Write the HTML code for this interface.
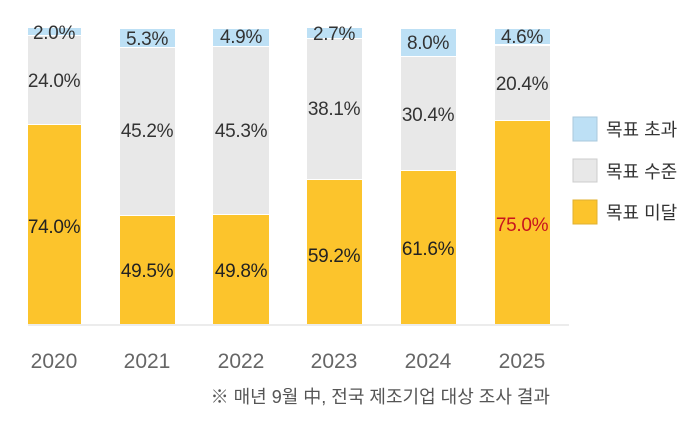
<!DOCTYPE html>
<html><head><meta charset="utf-8"><style>
body{margin:0;background:#fff;}
svg text{font-family:"Liberation Sans","Noto Sans CJK KR",sans-serif;}
</style></head><body>
<svg width="700" height="426" viewBox="0 0 700 426" xmlns="http://www.w3.org/2000/svg">
<line x1="28" y1="325" x2="569" y2="325" stroke="#d8d8d8" stroke-width="1"/>
<g>
<rect x="28" y="28" width="53" height="7" fill="#bde0f5"/>
<rect x="28" y="36" width="53" height="88" fill="#e8e8e8"/>
<rect x="28" y="125" width="53" height="199" fill="#fcc42c"/>
<rect x="120" y="29" width="55" height="18" fill="#bde0f5"/>
<rect x="120" y="48" width="55" height="167" fill="#e8e8e8"/>
<rect x="120" y="216" width="55" height="108" fill="#fcc42c"/>
<rect x="213" y="29" width="56" height="17" fill="#bde0f5"/>
<rect x="213" y="47" width="56" height="167" fill="#e8e8e8"/>
<rect x="213" y="215" width="56" height="109" fill="#fcc42c"/>
<rect x="307" y="28" width="55" height="10" fill="#bde0f5"/>
<rect x="307" y="39" width="55" height="140" fill="#e8e8e8"/>
<rect x="307" y="180" width="55" height="144" fill="#fcc42c"/>
<rect x="401" y="29" width="55" height="27" fill="#bde0f5"/>
<rect x="401" y="57" width="55" height="113" fill="#e8e8e8"/>
<rect x="401" y="171" width="55" height="153" fill="#fcc42c"/>
<rect x="495" y="29" width="55" height="15" fill="#bde0f5"/>
<rect x="495" y="46" width="55" height="74" fill="#e8e8e8"/>
<rect x="495" y="121" width="55" height="203" fill="#fcc42c"/>
</g>
<g font-size="19" fill="#333" text-anchor="middle" letter-spacing="-0.3">
<text x="54" y="39">2.0%</text><text x="54" y="87">24.0%</text><text x="54" y="233" fill="#222">74.0%</text>
<text x="147" y="45">5.3%</text><text x="147" y="137">45.2%</text><text x="147" y="277" fill="#222">49.5%</text>
<text x="241" y="43">4.9%</text><text x="241" y="137">45.3%</text><text x="241" y="277" fill="#222">49.8%</text>
<text x="334" y="40">2.7%</text><text x="334" y="115">38.1%</text><text x="334" y="262" fill="#222">59.2%</text>
<text x="428" y="49">8.0%</text><text x="428" y="121">30.4%</text><text x="428" y="255" fill="#222">61.6%</text>
<text x="522" y="43">4.6%</text><text x="522" y="90">20.4%</text><text x="522" y="231" fill="#c8141e">75.0%</text>
</g>
<g font-size="21" fill="#666" text-anchor="middle">
<text x="54" y="368">2020</text><text x="147" y="368">2021</text><text x="241" y="368">2022</text>
<text x="334" y="368">2023</text><text x="428" y="368">2024</text><text x="522" y="368">2025</text>
</g>
<text x="550" y="403" font-size="18" fill="#555" text-anchor="end">※ 매년 9월 中, 전국 제조기업 대상 조사 결과</text>
<rect x="573" y="117" width="24" height="24" fill="#bde0f5" stroke="#aac8dc" stroke-width="1"/>
<rect x="573" y="159" width="24" height="23" fill="#e8e8e8" stroke="#cccccc" stroke-width="1"/>
<rect x="573" y="200" width="24" height="24" fill="#fcc42c" stroke="#e0b030" stroke-width="1"/>
<g font-size="18" fill="#333">
<text x="606" y="136">목표 초과</text>
<text x="606" y="178">목표 수준</text>
<text x="606" y="219">목표 미달</text>
</g>
</svg>
</body></html>
